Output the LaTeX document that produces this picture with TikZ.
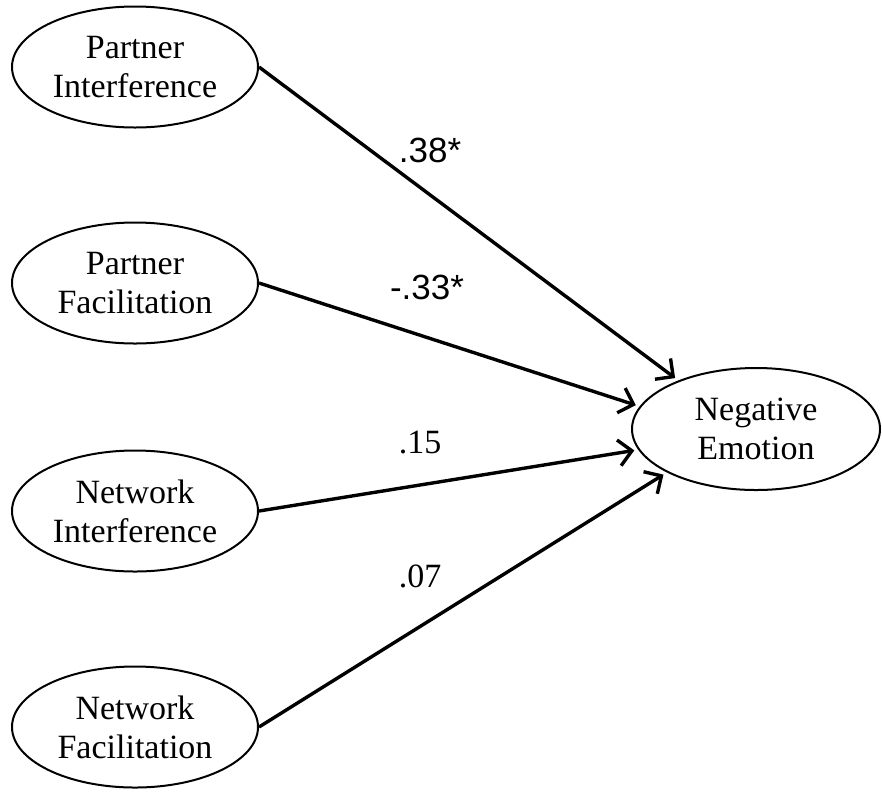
\documentclass[tikz,border=0pt]{standalone}
\usepackage{fontspec}
\setmainfont{Liberation Serif}
\newfontfamily\weightsans{Liberation Sans}
\usetikzlibrary{arrows.meta,shapes.geometric}

\tikzset{
  factor/.style={draw, ellipse, line width=2pt, minimum width=246pt,
    minimum height=121pt, inner sep=0pt, align=center,
    font=\fontsize{34}{39}\selectfont},
  effect/.style={line width=3.4pt, shorten >=4pt,
    -{Straight Barb[length=13pt,width=26pt]}},
  weight/.style={inner sep=0pt, font=\fontsize{34}{40}\selectfont}
}

\begin{document}
\begin{tikzpicture}[x=1pt, y=-1pt]
    \useasboundingbox (0,0) rectangle (882,793);
    \node[factor] (PI) at (135,67) {Partner\\Interference};
    \node[factor] (PF) at (135,283) {Partner\\Facilitation};
    \node[factor] (NI) at (135,511) {Network\\Interference};
    \node[factor] (NF) at (135,727) {Network\\Facilitation};
    \node[factor, minimum width=248pt, minimum height=122pt] (NE) at (756,429) {Negative\\Emotion};
    \draw[effect] (PI.east) -- (NE.148);
    \draw[effect] (PF.east) -- (NE.169);
    \draw[effect] (NI.east) -- (NE.190);
    \draw[effect] (NF.east) -- (NE.206);
    \node[weight, font=\weightsans\fontsize{35}{40}\selectfont] (wPI) at (430,150) {.38*};
    \node[weight, font=\weightsans\fontsize{35}{40}\selectfont] (wPF) at (427,287) {-.33*};
    \node[weight] (wNI) at (420,443) {.15};
    \node[weight] (wNF) at (420,576) {.07};
\end{tikzpicture}
\end{document}
